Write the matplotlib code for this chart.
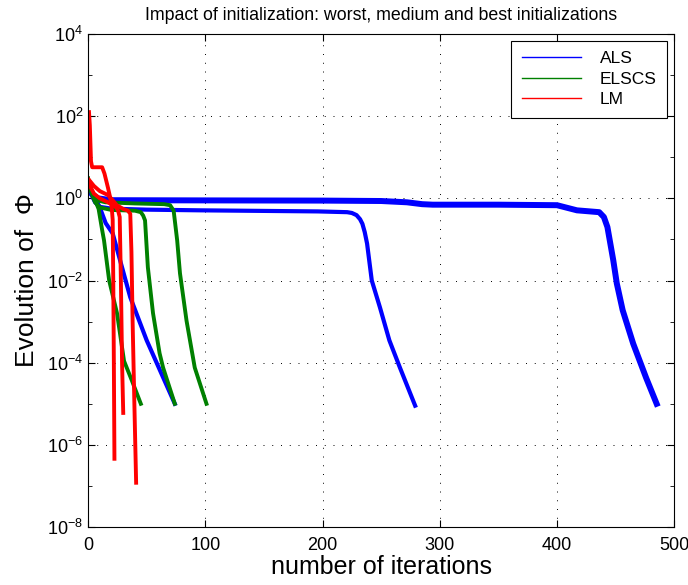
import matplotlib
matplotlib.use("Agg")
from matplotlib import pyplot
from matplotlib.lines import Line2D
from matplotlib.ticker import NullFormatter

pyplot.rcParams['font.family'] = ['Liberation Sans', 'DejaVu Sans']
pyplot.rcParams['mathtext.fontset'] = 'custom'
pyplot.rcParams['mathtext.rm'] = 'Liberation Sans'
pyplot.rcParams['mathtext.it'] = 'Liberation Sans:italic'

# -----------------------------------------------------------------------------
# ALS runs (worst / medium / best initialization)
als_long_x = [0, 3, 8, 20, 100, 200, 250, 272, 285, 294, 350, 400, 417, 436, 440,
              443, 448, 451, 456, 465, 476, 485]
als_long_y = [2.0, 1.3, 1.0, 0.9, 0.89, 0.88, 0.86, 0.8, 0.72, 0.70, 0.70, 0.68,
              0.51, 0.46, 0.35, 0.2, 0.031, 8.5e-3, 1.9e-3, 2.9e-4, 4.3e-5, 1e-5]
als_mid_x = [0, 3, 6, 10, 20, 50, 96, 196, 221, 225, 229, 232, 234, 236, 238, 242,
             249, 257, 266, 279]
als_mid_y = [2.2, 1.2, 0.8, 0.62, 0.56, 0.53, 0.51, 0.48, 0.46, 0.44, 0.39, 0.31,
             0.24, 0.15, 0.079, 1e-2, 2.2e-3, 3.5e-4, 7.6e-5, 9e-6]
als_fast_x = [0, 4, 10, 15, 21, 36, 50, 74]
als_fast_y = [2.5, 1.3, 0.6, 0.25, 0.14, 3.9e-3, 3.5e-4, 1e-5]

# ELSCS runs
elscs_fast_x = [0, 3, 6, 9, 12, 13.6, 18, 24.7, 30.7, 37.5, 45]
elscs_fast_y = [3.0, 1.5, 0.9, 0.55, 0.17, 0.095, 1e-2, 1.6e-3, 1.1e-4, 3.6e-5, 1e-5]
elscs_mid_x = [0, 3, 6, 10, 20, 40, 45, 47, 48.6, 51, 55.4, 61, 64, 74]
elscs_mid_y = [3.0, 1.3, 0.8, 0.6, 0.52, 0.5, 0.46, 0.38, 0.29, 0.021, 1.6e-3,
               1.7e-4, 7.6e-5, 1e-5]
elscs_slow_x = [0, 3, 7, 15, 40, 65, 70, 73, 76, 78.4, 84, 91, 101]
elscs_slow_y = [3.0, 1.5, 0.9, 0.8, 0.75, 0.72, 0.68, 0.5, 0.095, 0.015, 1.05e-3,
                7.6e-5, 1e-5]

# LM runs
lm_a_x = [0.8, 1.5, 2.5, 3.5, 12, 14, 17, 19, 20, 21, 21.5, 22, 22.5]
lm_a_y = [125, 60, 8, 5.7, 5.7, 4.0, 1.8, 1.0, 0.7, 0.3, 1e-2, 1e-4, 4.6e-7]
lm_b_x = [0, 5, 10, 17, 22, 24, 25.6, 27, 28, 29, 30]
lm_b_y = [2.5, 1.3, 1.0, 0.8, 0.65, 0.6, 0.5, 0.35, 1e-2, 1e-4, 6e-6]
lm_c_x = [0, 5, 10, 17, 21, 24.5, 30, 34, 36, 37, 38, 39.5, 41]
lm_c_y = [3.0, 2.0, 1.5, 1.2, 0.9, 0.68, 0.55, 0.5, 0.42, 0.05, 1e-3, 1e-5, 1.2e-7]

x_ticks = [0, 100, 200, 300, 400, 500]
y_ticks = [1e-8, 1e-6, 1e-4, 1e-2, 1e0, 1e2, 1e4]
y_minor = [1e-7, 1e-5, 1e-3, 1e-1, 1e1, 1e3]

blue = '#0000ff'
green = '#008000'
red = '#ff0000'

# -----------------------------------------------------------------------------
fig = pyplot.figure(figsize=(6.88, 5.85), dpi=100, facecolor='w')
ax = fig.add_subplot(111)
fig.subplots_adjust(left=0.128, right=0.98, top=0.942, bottom=0.099)

ax.semilogy(als_long_x, als_long_y, '-', color=blue, linewidth=4.3)
ax.semilogy(als_mid_x, als_mid_y, '-', color=blue, linewidth=3.0)
ax.semilogy(als_fast_x, als_fast_y, '-', color=blue, linewidth=3.0)
ax.semilogy(elscs_fast_x, elscs_fast_y, '-', color=green, linewidth=2.8)
ax.semilogy(elscs_mid_x, elscs_mid_y, '-', color=green, linewidth=2.8)
ax.semilogy(elscs_slow_x, elscs_slow_y, '-', color=green, linewidth=2.8)
ax.semilogy(lm_a_x, lm_a_y, '-', color=red, linewidth=2.8)
ax.semilogy(lm_b_x, lm_b_y, '-', color=red, linewidth=2.8)
ax.semilogy(lm_c_x, lm_c_y, '-', color=red, linewidth=2.8)

ax.set_xlim(0, 500)
ax.set_ylim(1e-8, 1e4)
ax.set_xticks(x_ticks)
ax.set_yticks(y_ticks)
ax.set_yticks(y_minor, minor=True)
ax.yaxis.set_minor_formatter(NullFormatter())
ax.tick_params(which='both', direction='in', top=True, right=True, labelsize=13)
ax.tick_params(which='major', length=5)
ax.tick_params(which='minor', length=3)
ax.tick_params(axis='x', pad=7)
for s in ax.spines.values():
    s.set_linewidth(0.8)

ax.grid(which='major', color='k', linestyle=(0, (1, 8)), linewidth=0.7)

ax.set_title('Impact of initialization: worst, medium and best initializations',
             fontsize=12.8, pad=10)
ax.set_xlabel('number of iterations', fontsize=18, labelpad=1)
ax.set_ylabel('Evolution of  \u03a6', fontsize=19, labelpad=6)

handles = [Line2D([], [], color=blue, linewidth=1),
           Line2D([], [], color=green, linewidth=1),
           Line2D([], [], color=red, linewidth=1)]
leg = ax.legend(handles, ['ALS', 'ELSCS', 'LM'], loc='upper right', fontsize=12.5,
                fancybox=False, framealpha=1, edgecolor='k', handlelength=3.4,
                handletextpad=1.1, labelspacing=0.3, borderpad=0.6,
                borderaxespad=0.4)
leg.get_frame().set_linewidth(0.8)

pyplot.savefig('out.png', dpi=100)
